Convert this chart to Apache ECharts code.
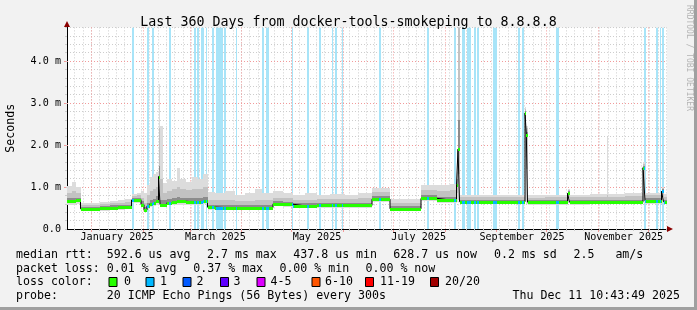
<!DOCTYPE html>
<html><head><meta charset="utf-8">
<script src="https://cdn.jsdelivr.net/npm/echarts@6/dist/echarts.min.js"></script>
<style>html,body{margin:0;padding:0;background:#f2f2f2}#c{width:697px;height:310px}</style>
</head><body><div id="c"></div>
<script>
// ---- data (x in days since 2024-12-17 12:00 UTC, y in ms) ----
const ORIGIN = '2024-12-17T12:00:00Z';
const SPAN_DAYS = 360;
const monthStarts = ['2025-01-01','2025-02-01','2025-03-01','2025-04-01','2025-05-01','2025-06-01','2025-07-01','2025-08-01','2025-09-01','2025-10-01','2025-11-01','2025-12-01'];
const labelDates = ['2025-01-16','2025-03-16','2025-05-16','2025-07-16','2025-09-16','2025-11-16'];
const labelNames = ['January 2025','March 2025','May 2025','July 2025','September 2025','November 2025'];
const minorGridFirst = '2024-12-22';   // minor vertical grid: every 5 days from here
const minorGridStepDays = 5;
const yMajor = [1, 2, 3, 4];

// smoke / median segments: each value holds from segDay[i] until segDay[i+1]
const segDay = [0,3.0,5.4,8.1,13.8,19.8,25.8,30.6,34.8,38.7,42,44.4,46.2,48,49.8,51.6,53.4,54.9,55.8,57.6,60,63,66,67.8,71.4,75,78.6,81.6,84.3,88.8,94.8,100.8,106.8,112.8,117,123.6,129.6,135.6,142.8,150,157.8,166.8,174.6,183,193.8,212.4,222,229.8,233.7,234.6,235.5,247.8,259.8,274.8,275.6,276.3,286.8,300.3,301.5,313.8,323.7,324.6,334.8,345.6,346.8,356.7,357.9];
const median  = [.67,.67,.68,.48,.48,.50,.51,.52,.53,.69,.70,.58,.45,.55,.60,.63,.66,1.25,.58,.58,.63,.65,.66,.66,.65,.64,.65,.66,.52,.51,.50,.50,.50,.51,.51,.60,.59,.55,.55,.56,.56,.56,.56,.71,.48,.73,.69,.69,1.05,1.9,.65,.65,.65,2.76,2.25,.64,.64,.85,.64,.65,.65,.65,.65,1.46,.67,.90,.65];
const smokeLo = [.58,.58,.60,.42,.42,.44,.45,.46,.47,.62,.63,.52,.40,.48,.52,.55,.57,.70,.52,.52,.56,.57,.58,.58,.57,.57,.58,.59,.46,.45,.45,.45,.45,.46,.46,.54,.53,.49,.50,.50,.50,.50,.50,.64,.42,.66,.62,.62,.65,.70,.59,.59,.59,.65,.60,.58,.58,.62,.58,.59,.59,.59,.59,.62,.60,.62,.59];
const smokeDk = [.74,.75,.74,.53,.53,.55,.56,.57,.58,.74,.75,.66,.52,.62,.70,.72,.78,1.5,.70,.68,.72,.74,.76,.75,.74,.74,.75,.76,.58,.57,.56,.56,.56,.57,.57,.66,.65,.61,.61,.62,.62,.62,.62,.78,.54,.80,.76,.77,1.2,2.6,.70,.70,.70,2.8,2.3,.69,.69,.90,.69,.70,.70,.70,.70,1.5,.73,.95,.70];
const smokeMd = [.85,.90,.86,.57,.58,.60,.61,.63,.64,.78,.80,.75,.62,.80,.90,.95,1.0,2.4,1.2,.85,.90,.95,1.0,.95,.92,.95,.95,1.0,.70,.68,.68,.66,.67,.70,.68,.75,.74,.70,.70,.72,.72,.72,.74,.88,.62,.92,.90,.92,1.35,4.8,.76,.76,.77,2.85,2.4,.75,.76,.93,.76,.77,.80,.77,.78,1.55,.80,.98,.77];
const smokeLt = [1.02,1.12,1.0,.61,.63,.64,.66,.68,.72,.84,.86,.90,.85,1.05,1.25,1.3,1.35,3.45,2.45,1.1,1.2,1.15,1.45,1.2,1.12,1.25,1.2,1.3,.88,.85,.90,.82,.85,.95,.85,.90,.86,.82,.85,.82,.84,.82,.85,.98,.72,1.05,1.05,1.08,1.6,4.8,.82,.80,.82,2.9,2.45,.80,.82,.96,.82,.84,2.2,.84,.85,1.6,.86,1.0,.84];

// periods with 1/20 packet loss (light blue bars), [start, end] in days
const lossPeriods = [[39.0,40.0],[48.0,49.2],[50.8,52.0],[61.2,62.2],[76.2,77.2],[77.8,79.2],[80.4,82.4],[83.2,83.8],[87.2,88.2],[89.4,93.8],[94.4,95.4],[101.4,102.2],[116.8,118.0],[119.6,121.0],[134.8,135.8],[144.2,145.4],[151.2,152.2],[158.8,159.8],[160.8,161.8],[164.8,165.8],[187.4,188.6],[215.8,217.2],[232.4,233.4],[237.0,238.8],[239.8,242.4],[244.2,245.4],[246.0,247.2],[255.3,257.7],[270.5,271.8],[273.1,274.3],[293.2,295.0],[346.2,347.4],[353.4,354.8],[355.5,356.2],[356.8,358.2]];

const legendLines = [
  [[16,'median rtt:  592.6 us avg'],[207,'2.7 ms max'],[293.3,'437.8 us min'],[393.3,'628.7 us now'],[494,'0.2 ms sd'],[573.5,'2.5   am/s']],
  [[16,'packet loss: 0.01 % avg'],[193.3,'0.37 % max'],[279.4,'0.00 % min'],[365.5,'0.00 % now']],
  [[16,'loss color:']],
  [[16,'probe:       20 ICMP Echo Pings (56 Bytes) every 300s']]
];
const lossLegend = [['0','#26ff00',108.5,124],['1','#00b8ff',145.5,160],['2','#0059ff',182.5,196.5],['3','#5e00ff',220,233.5],['4-5','#dd00ff',256.5,270.5],['6-10','#ff5500',311.5,325],['11-19','#ff0000',365,380],['20/20','#a10000',430,445]];
const stamp = 'Thu Dec 11 10:43:49 2025';

// ---- helpers ----
const o = Date.parse(ORIGIN);
const toDay = s => (Date.parse(s + 'T00:00:00Z') - o) / 864e5;
const monthDays = monthStarts.map(toDay);
const labelDays = labelDates.map(s => toDay(s) + 0.5);
const minorDays = [];
for (let d = toDay(minorGridFirst); d < SPAN_DAYS; d += minorGridStepDays) minorDays.push(d);
const segs = segDay.map((d, i) => [d, i + 1 < segDay.length ? segDay[i + 1] : SPAN_DAYS, smokeLo[i], median[i], smokeDk[i], smokeMd[i], smokeLt[i]]);
const medLine = segDay.map((d, i) => [d, median[i]]).concat([[SPAN_DAYS, median[median.length - 1]]]);
const FONT = 'DejaVu Sans Mono';
const LEG_FS = 11.6, AXIS_FS = 10.1, TITLE_FS = 13.3;
const GRID_C = '#cdcdcd', MGRID_C = '#f29a9a';

const chart = echarts.init(document.getElementById('c'), null, {renderer: 'canvas'});
function rectBetween(api, x0, x1, yA, yB, fill) {
  const p0 = api.coord([x0, yB]), p1 = api.coord([x1, yA]);
  const X0 = Math.round(p0[0]), X1 = Math.round(p1[0]);
  const Y0 = Math.round(p0[1]), Y1 = Math.round(p1[1]);
  return {type: 'rect', shape: {x: X0, y: Y0, width: Math.max(1, X1 - X0), height: Math.max(1, Y1 - Y0)}, style: {fill}};
}
const graphics = [];
legendLines.forEach((line, li) => {
  const y = [254.5, 268.5, 282, 296][li];
  line.forEach(([x, t]) => graphics.push({type: 'text', x, y, style: {text: t, font: `${LEG_FS}px "${FONT}"`, fill: '#000', verticalAlign: 'middle'}}));
});
lossLegend.forEach(([t, c, bx, tx]) => {
  graphics.push({type: 'rect', shape: {x: bx + 0.5, y: 277.5, width: 8, height: 9}, style: {fill: c, stroke: '#000', lineWidth: 1}});
  graphics.push({type: 'text', x: tx, y: 282, style: {text: t, font: `${LEG_FS}px "${FONT}"`, fill: '#000', verticalAlign: 'middle'}});
});
graphics.push({type: 'text', x: 680, y: 296, style: {text: stamp, font: `${LEG_FS}px "${FONT}"`, fill: '#000', align: 'right', verticalAlign: 'middle'}});
graphics.push({type: 'text', x: 689.5, y: 5, rotation: -Math.PI / 2, style: {text: 'RRDTOOL / TOBI OETIKER', font: `8px "${FONT}"`, fill: '#b4b4b4', verticalAlign: 'middle'}});
// axis arrows and frame
graphics.push({type: 'polygon', shape: {points: [[64, 27], [70, 27], [67, 21]]}, style: {fill: '#8b0000'}});
graphics.push({type: 'polygon', shape: {points: [[667, 226], [667, 232], [673, 229]]}, style: {fill: '#8b0000'}});
graphics.push({type: 'rect', shape: {x: 694, y: 0, width: 3, height: 310}, style: {fill: '#a0a0a0'}});
graphics.push({type: 'rect', shape: {x: 0, y: 307, width: 697, height: 3}, style: {fill: '#a0a0a0'}});

chart.setOption({
  animation: false,
  backgroundColor: '#f2f2f2',
  title: {text: 'Last 360 Days from docker-tools-smokeping to 8.8.8.8', left: 'center', top: 11, textStyle: {fontFamily: FONT, fontSize: TITLE_FS, fontWeight: 'normal', color: '#000'}},
  grid: {left: 67, right: 30, top: 27.4, bottom: 81, show: true, backgroundColor: '#fff', borderWidth: 0, containLabel: false, outerBoundsMode: 'none'},
  xAxis: {
    type: 'value', min: 0, max: SPAN_DAYS,
    axisLine: {show: true, lineStyle: {color: '#000', width: 1}},
    axisTick: {show: true, customValues: minorDays, length: 2, lineStyle: {color: GRID_C}},
    axisLabel: {customValues: labelDays, margin: 3, fontFamily: FONT, fontSize: AXIS_FS, color: '#000',
      formatter: v => { const i = labelDays.findIndex(d => Math.abs(d - v) < 0.01); return i >= 0 ? labelNames[i] : ''; }},
    splitLine: {show: true, lineStyle: {color: GRID_C, type: [1, 2]}}
  },
  yAxis: {
    type: 'value', min: 0, max: 4.8, interval: 0.2,
    name: 'Seconds', nameLocation: 'middle', nameRotate: 90, nameGap: 50,
    nameTextStyle: {fontFamily: FONT, fontSize: LEG_FS, color: '#000'},
    axisLine: {show: true, lineStyle: {color: '#000'}},
    axisTick: {show: true, length: 2, lineStyle: {color: GRID_C}},
    axisLabel: {margin: 6, fontFamily: FONT, fontSize: AXIS_FS, color: '#000',
      formatter: v => { const r = Math.round(v * 10) / 10; if (Math.abs(r - Math.round(r)) > 1e-6) return ''; return r === 0 ? '0.0' : r.toFixed(1) + ' m'; }},
    splitLine: {show: true, lineStyle: {color: GRID_C, type: [1, 2]}}
  },
  graphic: graphics,
  series: [
    { // major grid lines (months, whole milliseconds)
      type: 'custom', z: 1, silent: true, clip: false,
      data: monthDays.map(d => [d, 0]).concat(yMajor.map(v => [0, v])),
      renderItem(params, api) {
        const cs = params.coordSys; const xv = api.value(0); const yv = api.value(1);
        if (params.dataIndex < monthDays.length) {
          const x = Math.round(api.coord([xv, 0])[0]) + 0.5;
          return {type: 'group', children: [
            {type: 'line', shape: {x1: x, y1: cs.y, x2: x, y2: cs.y + cs.height}, style: {stroke: MGRID_C, lineWidth: 1, lineDash: [1, 2]}},
            {type: 'line', shape: {x1: x, y1: cs.y + cs.height + 1, x2: x, y2: cs.y + cs.height + 3}, style: {stroke: MGRID_C, lineWidth: 1}}
          ]};
        }
        const y = Math.round(api.coord([0, yv])[1]) + 0.5;
        return {type: 'group', children: [
          {type: 'line', shape: {x1: cs.x, y1: y, x2: cs.x + cs.width, y2: y}, style: {stroke: MGRID_C, lineWidth: 1, lineDash: [1, 2]}},
          {type: 'line', shape: {x1: cs.x - 3, y1: y, x2: cs.x - 1, y2: y}, style: {stroke: MGRID_C, lineWidth: 1}}
        ]};
      }
    },
    { // loss bars
      type: 'custom', z: 2, silent: true, clip: true,
      data: lossPeriods,
      encode: {x: [0, 1]},
      renderItem(params, api) {
        const cs = params.coordSys;
        const a = api.coord([api.value(0), 0]), b = api.coord([api.value(1), 0]);
        const x0 = Math.round(a[0]), x1 = Math.round(b[0]);
        return {type: 'rect', shape: {x: x0, y: cs.y, width: Math.max(1, x1 - x0), height: cs.height}, style: {fill: '#a8e4f8'}};
      }
    },
    { // smoke
      type: 'custom', z: 3, silent: true, clip: true,
      data: segs, encode: {x: [0, 1], y: [2, 3, 4, 5, 6]},
      renderItem(params, api) {
        const x0 = api.value(0), x1 = api.value(1), L = api.value(2), M = api.value(3), D = api.value(4), Md = api.value(5), Lt = api.value(6);
        return {type: 'group', children: [
          rectBetween(api, x0, x1, L, Lt, '#dcdcdc'),
          rectBetween(api, x0, x1, (L + M) / 2, Md, '#c2c2c2'),
          rectBetween(api, x0, x1, M - 0.03, D, '#8c8c8c')
        ]};
      }
    },
    { // median black line
      type: 'line', z: 4, data: medLine, step: 'end', symbol: 'none', silent: true,
      lineStyle: {color: '#000', width: 1}
    },
    { // median loss-coloured band
      type: 'custom', z: 5, silent: true, clip: true,
      data: segs, encode: {x: [0, 1], y: 3},
      renderItem(params, api) {
        const x0 = api.value(0), x1 = api.value(1), M = api.value(3);
        const cy = Math.round(api.coord([x0, M])[1]);
        const mk = (a, b, fill) => { const X0 = Math.round(api.coord([a, 0])[0]), X1 = Math.round(api.coord([b, 0])[0]); return {type: 'rect', shape: {x: X0, y: cy - 1, width: Math.max(1, X1 - X0), height: 3}, style: {fill}}; };
        const ch = [mk(x0, x1, '#26ff00')];
        lossPeriods.forEach(([s, e]) => { const a = Math.max(s, x0), b = Math.min(e, x1); if (b > a) ch.push(mk(a, b, '#00b8ff')); });
        return {type: 'group', children: ch};
      }
    }
  ]
});
</script></body></html>
